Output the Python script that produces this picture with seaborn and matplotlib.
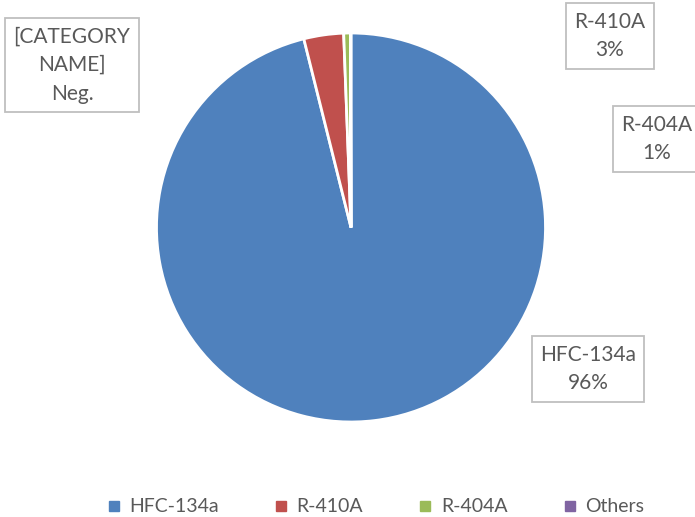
import matplotlib
matplotlib.use("Agg")
import matplotlib.pyplot as plt
import seaborn as sns
from matplotlib.lines import Line2D

sns.set_theme(style="white")
plt.rcParams['font.family'] = ['Lato', 'DejaVu Sans']

categories = ["HFC-134a", "R-410A", "R-404A", "Others"]
values = [96.1, 3.3, 0.55, 0.05]
label_texts = ["HFC-134a\n96%", "R-410A\n3%", "R-404A\n1%", "[CATEGORY\nNAME]\nNeg."]
colors = ["#4F81BD", "#C0504D", "#9BBB59", "#8064A2"]

W, H = 695, 517
fig = plt.figure(figsize=(W / 100, H / 100), dpi=100)
ax = fig.add_axes([0, 0, 1, 1])
ax.set_xlim(0, W)
ax.set_ylim(0, H)
ax.set_aspect('equal')
ax.axis('off')

cx, cy, r = 351, H - 227.5, 194.5
ax.pie(values, colors=colors, startangle=90, counterclock=False,
       center=(cx, cy), radius=r, frame=True,
       wedgeprops=dict(edgecolor="white", linewidth=2))
ax.set_xlim(0, W)
ax.set_ylim(0, H)
ax.axis('off')

label_pos = [(588, 369), (610, 36), (657, 139), (72, 65)]
for txt, (x, y) in zip(label_texts, label_pos):
    ax.text(x, H - y, txt, ha='center', va='center', fontsize=15,
            color='#595959', linespacing=1.55,
            bbox=dict(boxstyle='square,pad=0.4', fc='white', ec='#BFBFBF', lw=1.3))

handles = [Line2D([0], [0], marker='s', linestyle='', markersize=7,
                  markerfacecolor=c, markeredgecolor=c) for c in colors]
leg = ax.legend(handles, categories, loc='center', bbox_to_anchor=(376 / W, 1 - 507 / H),
                ncol=4, frameon=False, fontsize=14, handlelength=0.6,
                handletextpad=0.5, columnspacing=2.9)
for t in leg.get_texts():
    t.set_color('#595959')

fig.savefig("out.png", dpi=100)
